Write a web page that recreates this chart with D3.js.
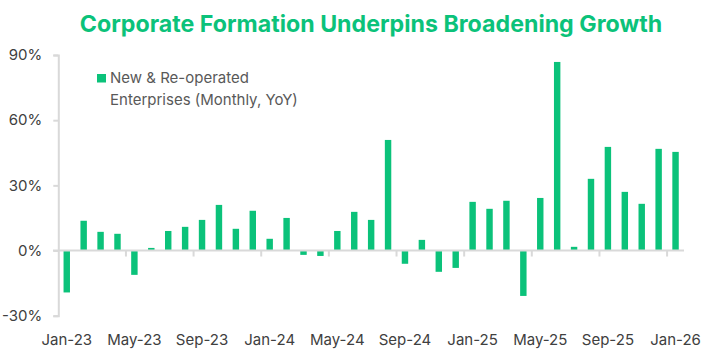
<!DOCTYPE html>
<html>
<head>
<meta charset="utf-8">
<script src="https://cdn.jsdelivr.net/npm/d3@7"></script>
<style>
  html, body { margin: 0; padding: 0; background: #fff; }
  svg { display: block; font-family: Inter, "Noto Sans", sans-serif; }
</style>
</head>
<body>
<svg id="chart" width="727" height="358"></svg>
<script>
const months = ["Jan-23","Feb-23","Mar-23","Apr-23","May-23","Jun-23","Jul-23","Aug-23","Sep-23","Oct-23","Nov-23","Dec-23",
  "Jan-24","Feb-24","Mar-24","Apr-24","May-24","Jun-24","Jul-24","Aug-24","Sep-24","Oct-24","Nov-24","Dec-24",
  "Jan-25","Feb-25","Mar-25","Apr-25","May-25","Jun-25","Jul-25","Aug-25","Sep-25","Oct-25","Nov-25","Dec-25","Jan-26"];
const values = [-19.3, 13.7, 8.6, 7.7, -11.2, 1.2, 9.0, 10.9, 14.1, 21.0, 10.0, 18.3,
  5.4, 15.0, -2.0, -2.5, 9.0, 17.8, 14.1, 50.9, -6.1, 4.9, -9.8, -8.0,
  22.4, 19.2, 22.9, -20.9, 24.2, 86.8, 1.7, 33.0, 47.7, 27.0, 21.5, 46.8, 45.4];
const yTicks = [-30, 0, 30, 60, 90];
const xLabels = ["Jan-23","May-23","Sep-23","Jan-24","May-24","Sep-24","Jan-25","May-25","Sep-25","Jan-26"];
const title = "Corporate Formation Underpins Broadening Growth";
const legendLines = ["New & Re-operated", "Enterprises (Monthly, YoY)"];

const green = "#0BC27A";
const axisGrey = "#D9D9D9";
const svg = d3.select("#chart");

const x = d3.scaleBand().domain(months).range([58.3, 684]).paddingInner(0.62).paddingOuter(0.31);
const y = d3.scaleLinear().domain([-30, 90]).range([315.7, 55]);

// title
svg.append("text").attr("x", 371).attr("y", 32).attr("text-anchor", "middle")
  .attr("font-size", 23.2).attr("font-weight", 700).attr("fill", green).text(title);

// bars
svg.append("g").selectAll("rect").data(values).join("rect")
  .attr("x", (d, i) => x(months[i]))
  .attr("width", x.bandwidth())
  .attr("y", d => y(Math.max(0, d)))
  .attr("height", d => Math.abs(y(d) - y(0)))
  .attr("fill", green);

// y axis
const yAxis = svg.append("g").attr("transform", "translate(58.3,0)")
  .call(d3.axisLeft(y).tickValues(yTicks).tickFormat(d => d + "%").tickSize(5).tickPadding(11));
yAxis.select(".domain").attr("stroke", axisGrey).attr("stroke-width", 2);
yAxis.selectAll(".tick line").attr("stroke", axisGrey).attr("stroke-width", 2);
yAxis.selectAll("text").attr("font-size", 15).attr("fill", "#404040").attr("font-family", "Inter, sans-serif");

// x axis line at zero
svg.append("line").attr("x1", 53).attr("x2", 684).attr("y1", y(0)).attr("y2", y(0))
  .attr("stroke", axisGrey).attr("stroke-width", 2);
// x tick marks at left band edges of labelled months
const step = x.step();
svg.append("g").selectAll("line").data(xLabels.slice(1)).join("line")
  .attr("x1", d => x(d) - (step - x.bandwidth()) / 2)
  .attr("x2", d => x(d) - (step - x.bandwidth()) / 2)
  .attr("y1", y(0)).attr("y2", y(0) + 6)
  .attr("stroke", axisGrey).attr("stroke-width", 2);
// x labels
svg.append("g").selectAll("text").data(xLabels).join("text")
  .attr("x", d => x(d) + x.bandwidth() / 2)
  .attr("y", 345)
  .attr("text-anchor", "middle").attr("font-size", 15).attr("fill", "#404040")
  .text(d => d);

// legend
svg.append("rect").attr("x", 97).attr("y", 74).attr("width", 9).attr("height", 8.5).attr("fill", green);
svg.append("g").selectAll("text").data(legendLines).join("text")
  .attr("x", 110).attr("y", (d, i) => 83 + i * 22)
  .attr("font-size", 15).attr("fill", "#595959").text(d => d);
</script>
</body>
</html>
